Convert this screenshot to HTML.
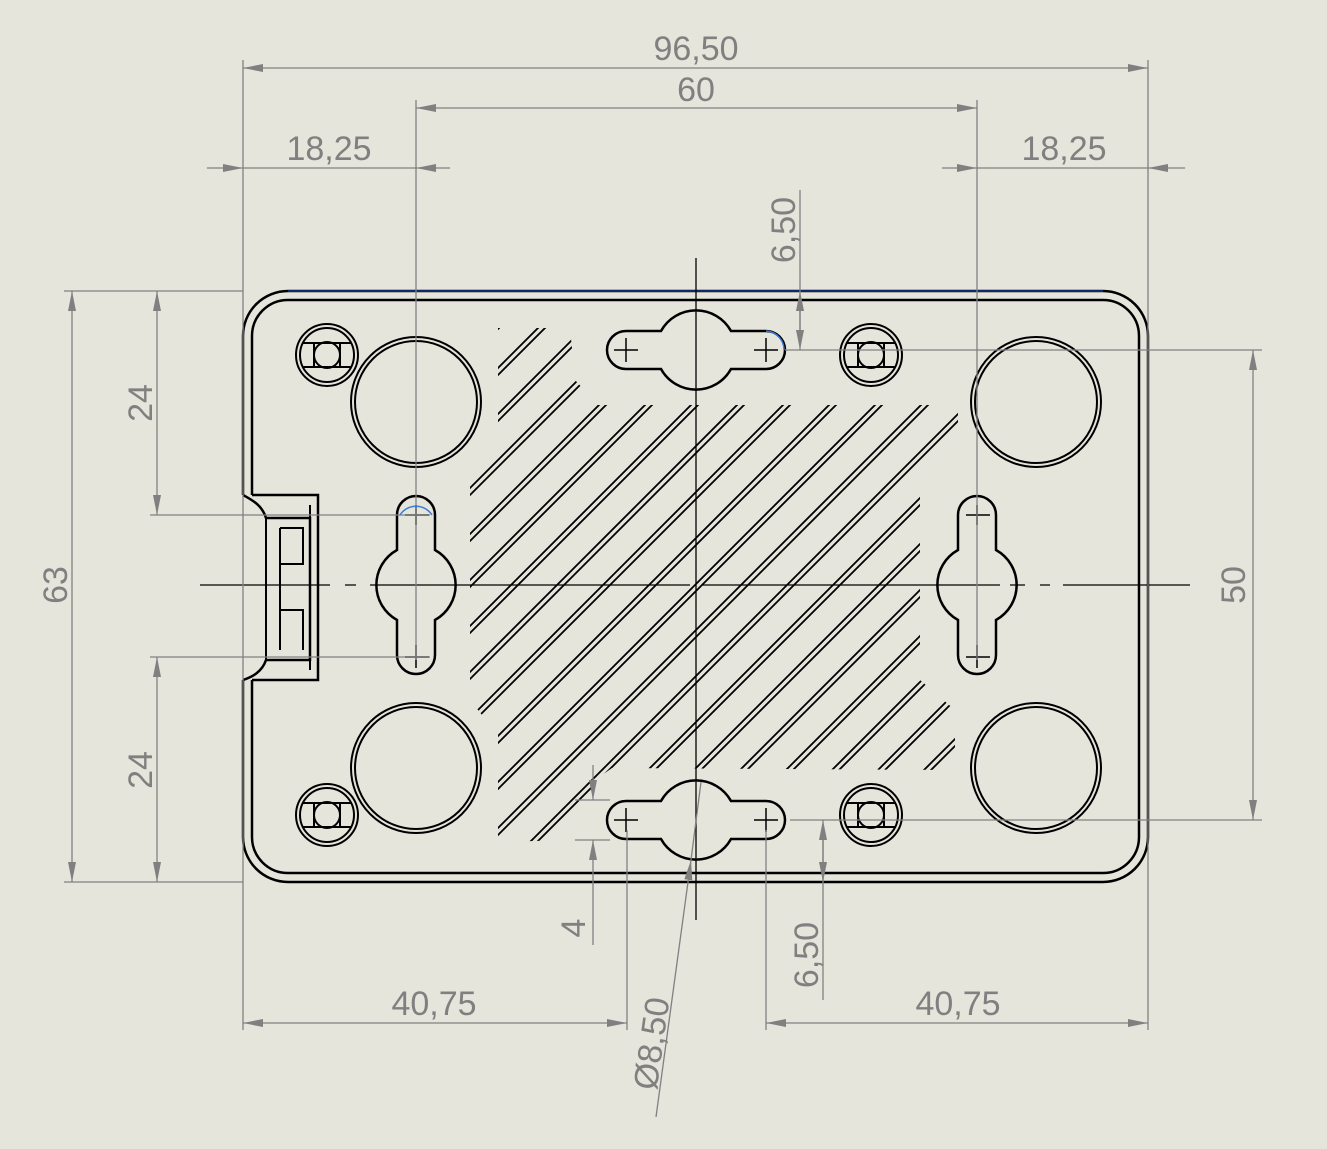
<!DOCTYPE html>
<html><head><meta charset="utf-8"><style>
html,body{margin:0;padding:0;background:#e5e5dc;}
svg{display:block}
text{font-family:"Liberation Sans",sans-serif;font-size:34px;fill:#808080;}
</style></head><body>
<svg width="1327" height="1149" viewBox="0 0 1327 1149" xmlns="http://www.w3.org/2000/svg">
<defs>
<clipPath id="hc"><polygon points="498,328 570,328 575,380 598,405 958,405 958,450 920,490 920,680 955,710 955,770 612,768 595,780 570,840 498,842 498,735 470,700 470,485 498,440"/></clipPath>
<marker id="a" viewBox="0 0 20 8" refX="20" refY="4" markerWidth="20" markerHeight="8" orient="auto-start-reverse" markerUnits="userSpaceOnUse"><path d="M0,0 L20,4 L0,8 Z" fill="#808080"/></marker>
</defs>

<g fill="none" stroke="#000" stroke-width="2.5">
<path d="M288,291 H1103 A45,45 0 0 1 1148,336 V837 A45,45 0 0 1 1103,882 H288 A45,45 0 0 1 243,837 V680 M243,495 V336 A45,45 0 0 1 288,291"/>
<path d="M288,300 H1103 A36,36 0 0 1 1139,336 V837 A36,36 0 0 1 1103,873 H288 A36,36 0 0 1 252,837 V680 M252,495 V336 A36,36 0 0 1 288,300"/>
<path d="M252,495 H318 V680 H252 M243,495 C252,500 262,505 266,518 H310 V660 H266 C262,672 252,677 243,680"/>
<path d="M266,518 V660 M280,528 V650 M280,528 H303 V564 H280 M280,610 H303 V650 M310,505 V670" stroke-width="2"/>
</g>
<path d="M288,291 H1103" stroke="#1a4fcf" stroke-width="1"/>

<g fill="none" stroke="#000" stroke-width="2">
<circle cx="416" cy="402" r="65"/><circle cx="416" cy="402" r="61"/>
<circle cx="1036" cy="402" r="65"/><circle cx="1036" cy="402" r="61"/>
<circle cx="416" cy="768" r="65"/><circle cx="416" cy="768" r="61"/>
<circle cx="1036" cy="768" r="65"/><circle cx="1036" cy="768" r="61"/>
</g>
<g fill="none" stroke="#000" stroke-width="2">
<g id="m"><circle cx="327" cy="355" r="31"/><circle cx="327" cy="355" r="27"/><circle cx="327" cy="355" r="13"/><path d="M303,343 H351 M303,367 H351 M314,343 V367 M340,343 V367"/></g>
<use href="#m" x="544"/><use href="#m" y="460"/><use href="#m" x="544" y="460"/>
</g>

<g fill="none" stroke="#000" stroke-width="2.5">
<path d="M397,550 V515 A19,19 0 0 1 435,515 V550 A40,40 0 0 1 435,620 V655 A19,19 0 0 1 397,655 V620 A40,40 0 0 1 397,550 Z"/>
<path d="M958,550 V515 A19,19 0 0 1 996,515 V550 A40,40 0 0 1 996,620 V655 A19,19 0 0 1 958,655 V620 A40,40 0 0 1 958,550 Z"/>
<path d="M661,331 H626 A19,19 0 0 0 626,369 H661 A40,40 0 0 0 731,369 H766 A19,19 0 0 0 766,331 H731 A40,40 0 0 0 661,331 Z"/>
<path d="M661,801 H626 A19,19 0 0 0 626,839 H661 A40,40 0 0 0 731,839 H766 A19,19 0 0 0 766,801 H731 A40,40 0 0 0 661,801 Z"/>
</g>
<g stroke="#000" stroke-width="1.5">
<path d="M405,515 H429 M416,505 V525 M405,657 H429 M416,645 V668 M966,515 H990 M977,505 V525 M966,657 H990 M977,645 V668 M614,350 H638 M626,338 V362 M754,350 H778 M766,338 V362 M614,820 H638 M626,808 V832 M754,820 H778 M766,808 V832"/>
</g>

<g clip-path="url(#hc)" stroke="#000" stroke-width="1.8">
<path d="M-80,900 L650,170 M-73,900 L657,170 M-34,900 L696,170 M-27,900 L703,170 M12,900 L742,170 M19,900 L749,170 M58,900 L788,170 M65,900 L795,170 M104,900 L834,170 M111,900 L841,170 M150,900 L880,170 M157,900 L887,170 M196,900 L926,170 M203,900 L933,170 M242,900 L972,170 M249,900 L979,170 M288,900 L1018,170 M295,900 L1025,170 M334,900 L1064,170 M341,900 L1071,170 M380,900 L1110,170 M387,900 L1117,170 M426,900 L1156,170 M433,900 L1163,170 M472,900 L1202,170 M479,900 L1209,170 M518,900 L1248,170 M525,900 L1255,170 M564,900 L1294,170 M571,900 L1301,170 M610,900 L1340,170 M617,900 L1347,170 M656,900 L1386,170 M663,900 L1393,170 M702,900 L1432,170 M709,900 L1439,170 M748,900 L1478,170 M755,900 L1485,170 M794,900 L1524,170 M801,900 L1531,170 M840,900 L1570,170 M847,900 L1577,170"/>
</g>

<g stroke="#000" stroke-width="1.3">
<path d="M200,585 H330 M345,585 H356 M370,585 H690 M702,585 H1000 M1010,585 H1025 M1040,585 H1050 M1063,585 H1190"/>
<path d="M696,258 V920"/>
</g>

<g stroke="#808080" stroke-width="1.3" fill="none">
<path d="M243,60 V1030 M1148,60 V1030 M416,100 V660 M977,100 V660"/>
<path d="M64,291 H243 M64,882 H243 M150,515 H430 M150,657 H430 M785,350 H1262 M790,820 H1262 M627,830 V1030 M766,830 V1030 M575,800 H610 M575,840 H610"/>
<path d="M243,68 H1148" marker-start="url(#a)" marker-end="url(#a)"/>
<path d="M416,108 H977" marker-start="url(#a)" marker-end="url(#a)"/>
<path d="M207,168 H243" marker-end="url(#a)"/><path d="M450,168 H416" marker-end="url(#a)"/><path d="M243,168 H416"/>
<path d="M942,168 H977" marker-end="url(#a)"/><path d="M1185,168 H1148" marker-end="url(#a)"/><path d="M977,168 H1148"/>
<path d="M72,291 V882" marker-start="url(#a)" marker-end="url(#a)"/>
<path d="M157,291 V515" marker-start="url(#a)" marker-end="url(#a)"/>
<path d="M157,657 V882" marker-start="url(#a)" marker-end="url(#a)"/>
<path d="M1253,350 V820" marker-start="url(#a)" marker-end="url(#a)"/>
<path d="M800,190 V291"/><path d="M800,330 V291" marker-end="url(#a)"/><path d="M800,300 V350" marker-end="url(#a)"/>
<path d="M593,765 V800" marker-end="url(#a)"/><path d="M593,945 V840" marker-end="url(#a)"/>
<path d="M823,1000 V820" marker-end="url(#a)"/><path d="M823,840 V882" marker-end="url(#a)"/>
<path d="M243,1023 H627" marker-start="url(#a)" marker-end="url(#a)"/>
<path d="M766,1023 H1148" marker-start="url(#a)" marker-end="url(#a)"/>
<path d="M656,1117 L691,860" marker-end="url(#a)"/><path d="M691,860 L701,782"/>
</g>
<path d="M400,515 A19,19 0 0 1 432,515" fill="none" stroke="#3a7bd5" stroke-width="1.5"/>
<path d="M766,331 A19,19 0 0 1 784,350" fill="none" stroke="#3a7bd5" stroke-width="1.5"/>

<g>
<text x="696" y="60" text-anchor="middle">96,50</text>
<text x="696" y="101" text-anchor="middle">60</text>
<text x="329" y="160" text-anchor="middle">18,25</text>
<text x="1064" y="160" text-anchor="middle">18,25</text>
<text x="434" y="1015" text-anchor="middle">40,75</text>
<text x="958" y="1015" text-anchor="middle">40,75</text>
<text transform="translate(67,585) rotate(-90)" text-anchor="middle">63</text>
<text transform="translate(152,403) rotate(-90)" text-anchor="middle">24</text>
<text transform="translate(152,770) rotate(-90)" text-anchor="middle">24</text>
<text transform="translate(1245,585) rotate(-90)" text-anchor="middle">50</text>
<text transform="translate(795,230) rotate(-90)" text-anchor="middle">6,50</text>
<text transform="translate(818,955) rotate(-90)" text-anchor="middle">6,50</text>
<text transform="translate(585,928) rotate(-90)" text-anchor="middle">4</text>
<text transform="translate(663,1045) rotate(-82)" text-anchor="middle">Ø8,50</text>
</g>
</svg>
</body></html>
